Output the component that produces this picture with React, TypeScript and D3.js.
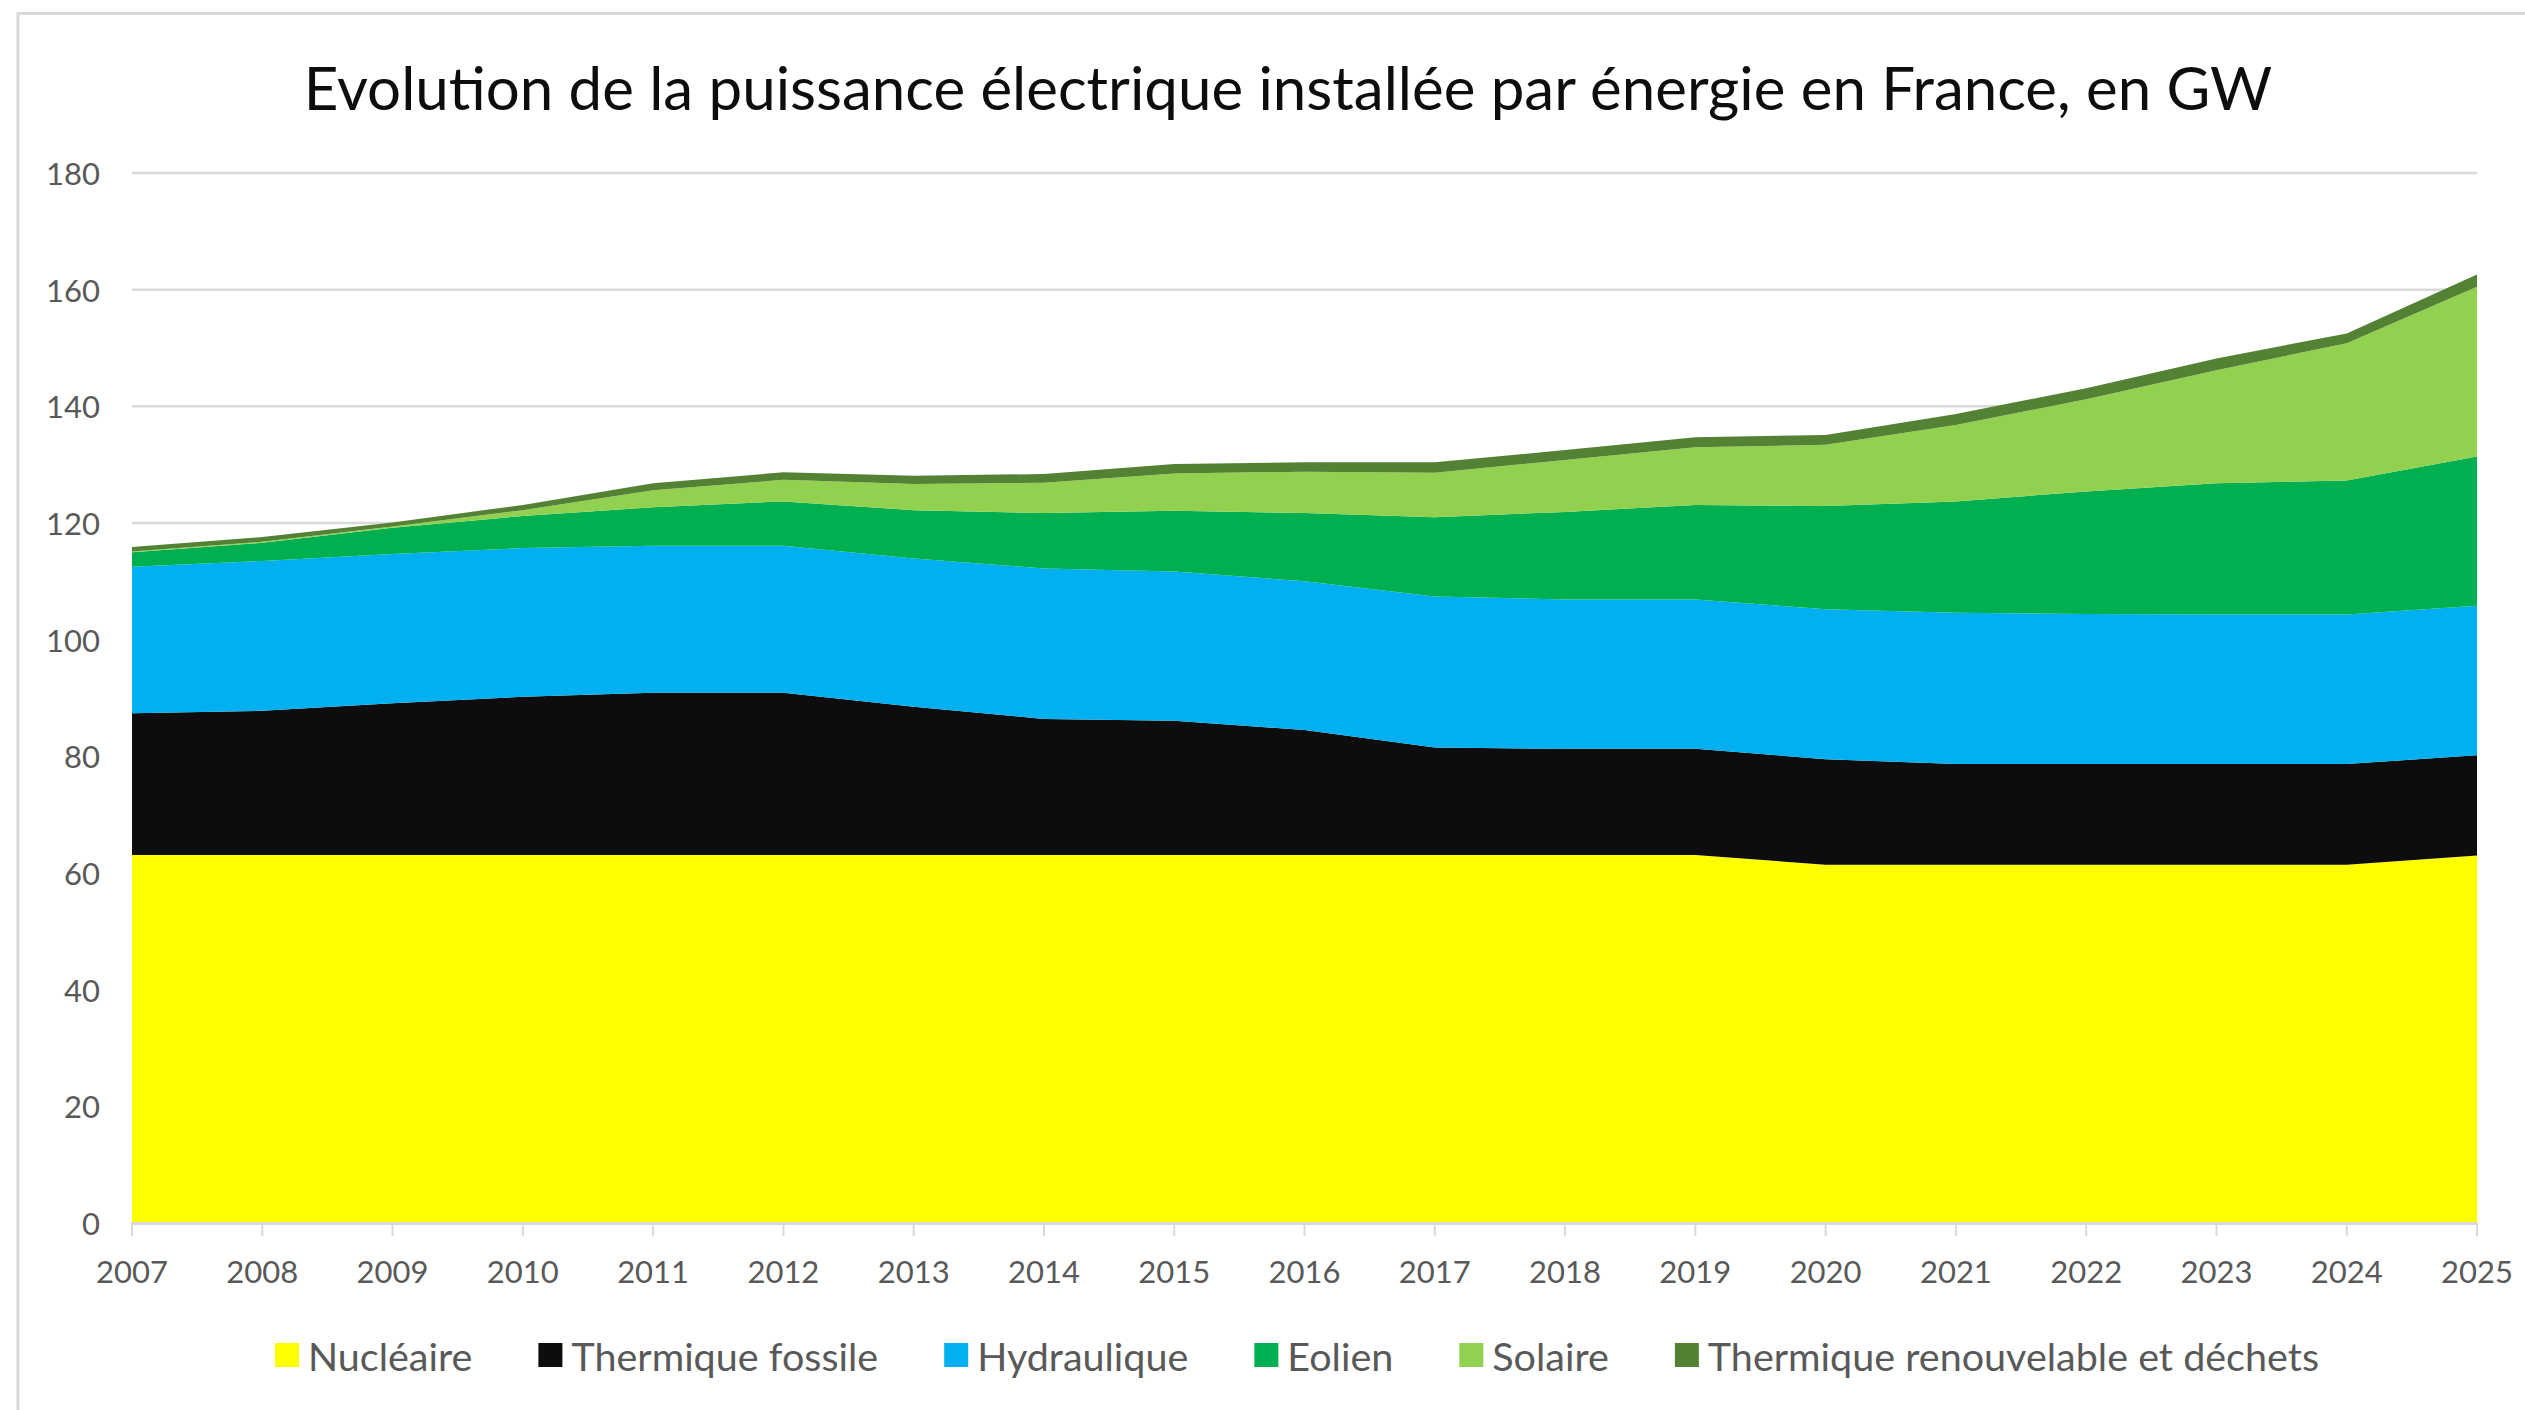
import React from "react";
import * as d3 from "d3";

const years = [2007, 2008, 2009, 2010, 2011, 2012, 2013, 2014, 2015, 2016, 2017, 2018, 2019, 2020, 2021, 2022, 2023, 2024, 2025];
const nucleaire = [63.1, 63.1, 63.1, 63.1, 63.1, 63.1, 63.1, 63.1, 63.1, 63.1, 63.1, 63.1, 63.1, 61.4, 61.4, 61.4, 61.4, 61.4, 63.0];
const thermiqueFossile = [24.3, 24.7, 26.0, 27.1, 27.8, 27.8, 25.4, 23.3, 23.0, 21.4, 18.4, 18.2, 18.2, 18.1, 17.3, 17.3, 17.3, 17.3, 17.2];
const hydraulique = [25.1, 25.7, 25.6, 25.5, 25.2, 25.2, 25.4, 25.8, 25.6, 25.5, 25.9, 25.6, 25.6, 25.7, 25.9, 25.7, 25.6, 25.6, 25.6];
const eolien = [2.5, 3.1, 4.5, 5.5, 6.6, 7.6, 8.3, 9.5, 10.4, 11.7, 13.6, 15.0, 16.2, 17.7, 19.1, 21.0, 22.5, 23.0, 25.6];
const solaire = [0.1, 0.2, 0.2, 1.0, 2.9, 3.7, 4.5, 5.2, 6.4, 7.1, 7.6, 8.9, 9.9, 10.5, 13.1, 15.8, 19.4, 23.5, 29.1];
const thermiqueRenouvelable = [0.8, 0.8, 0.7, 0.9, 1.2, 1.3, 1.4, 1.5, 1.6, 1.6, 1.8, 1.7, 1.7, 1.7, 1.9, 1.9, 2.0, 1.7, 2.1];

const seriesNames = ["Nucléaire", "Thermique fossile", "Hydraulique", "Eolien", "Solaire", "Thermique renouvelable et déchets"];
const seriesColors = ["#FFFF00", "#0D0D0D", "#00B0F0", "#00B050", "#92D050", "#548235"];
const yTicks = [0, 20, 40, 60, 80, 100, 120, 140, 160, 180];
const title = "Evolution de la puissance électrique installée par énergie en France, en GW";

const W = 2525;
const H = 1410;
const FONT = "Lato, 'Open Sans', sans-serif";

function measure(text: string, size: number) {
  const c = document.createElement("canvas").getContext("2d");
  if (!c) return text.length * size * 0.5;
  c.font = `${size}px Lato`;
  return c.measureText(text).width;
}

export default function App() {
  const values = [nucleaire, thermiqueFossile, hydraulique, eolien, solaire, thermiqueRenouvelable];
  const rows = years.map((yr, i) => {
    const r: any = { year: yr };
    seriesNames.forEach((n, k) => (r[n] = values[k][i]));
    return r;
  });
  const stacked = d3.stack<any>().keys(seriesNames)(rows);

  const x = d3.scaleLinear().domain([years[0], years[years.length - 1]]).range([132, 2477]);
  const y = d3.scaleLinear().domain([0, 180]).range([1223, 173]);

  const area = d3
    .area<any>()
    .x((d) => x(d.data.year))
    .y0((d) => y(d[0]))
    .y1((d) => y(d[1]))
    .curve(d3.curveLinear);

  // legend layout
  const legSize = 39.5;
  const sq = 24;
  const sqGap = 9;
  const itemGap = 66;
  const widths = seriesNames.map((n) => measure(n, legSize));
  const total = widths.reduce((a, w) => a + sq + sqGap + w, 0) + itemGap * (seriesNames.length - 1);
  let cx = 1297 - total / 2;
  const legendItems = seriesNames.map((n, k) => {
    const item = { name: n, color: seriesColors[k], x: cx };
    cx += sq + sqGap + widths[k] + itemGap;
    return item;
  });

  return (
    <div style={{ position: "absolute", left: 0, top: 0 }}>
      <svg width={W} height={H} style={{ display: "block", background: "#fff" }}>
        <rect x={0} y={0} width={W} height={H} fill="#fff" />
        {/* chart border */}
        <line x1={18} x2={W} y1={13.5} y2={13.5} stroke="#d9d9d9" strokeWidth={3} />
        <line x1={18} x2={18} y1={12} y2={H} stroke="#d9d9d9" strokeWidth={3} />
        <text x={1288} y={87} textAnchor="middle" dominantBaseline="central" fontFamily={FONT} fontSize={60} fill="#0d0d0d">
          {title}
        </text>
        {/* gridlines */}
        {yTicks.filter((t) => t > 0).map((t) => (
          <line key={t} x1={x(years[0])} x2={x(years[years.length - 1])} y1={y(t)} y2={y(t)} stroke="#d9d9d9" strokeWidth={2.5} />
        ))}
        {/* areas */}
        {stacked.map((s, k) => (
          <path key={s.key} d={area(s) || ""} fill={seriesColors[k]} />
        ))}
        {/* x axis */}
        <line x1={x(years[0])} x2={x(years[years.length - 1])} y1={1223.5} y2={1223.5} stroke="#d9d9d9" strokeWidth={3} />
        {years.map((yr) => (
          <g key={yr}>
            <line x1={x(yr)} x2={x(yr)} y1={1223} y2={1236} stroke="#d9d9d9" strokeWidth={2} />
            <text x={x(yr)} y={1271} textAnchor="middle" dominantBaseline="central" fontFamily={FONT} fontSize={31} fill="#595959">
              {yr}
            </text>
          </g>
        ))}
        {/* y labels */}
        {yTicks.map((t) => (
          <text key={t} x={100} y={y(t)} textAnchor="end" dominantBaseline="central" fontFamily={FONT} fontSize={31} fill="#595959">
            {t}
          </text>
        ))}
        {/* legend */}
        {legendItems.map((it) => (
          <g key={it.name}>
            <rect x={it.x} y={1343} width={sq} height={sq} fill={it.color} />
            <text x={it.x + sq + sqGap} y={1355} dominantBaseline="central" fontFamily={FONT} fontSize={legSize} fill="#595959">
              {it.name}
            </text>
          </g>
        ))}
      </svg>
    </div>
  );
}
